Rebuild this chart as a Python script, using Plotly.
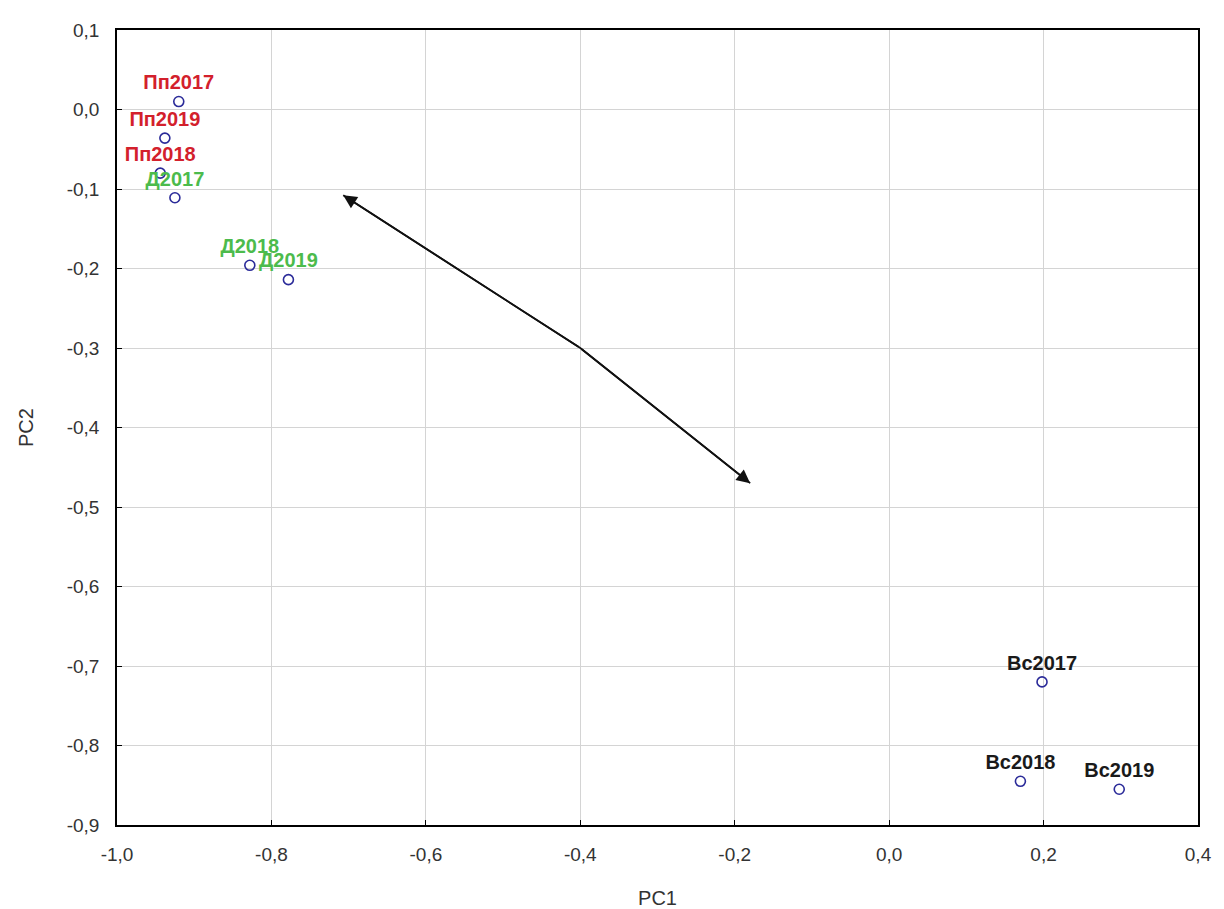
import plotly.graph_objects as go

labels = ["Пп2017", "Пп2019", "Пп2018", "Д2017", "Д2018", "Д2019", "Вс2017", "Вс2018", "Вс2019"]
pc1 = [-0.920, -0.938, -0.944, -0.925, -0.828, -0.778, 0.198, 0.170, 0.298]
pc2 = [0.010, -0.036, -0.080, -0.111, -0.196, -0.214, -0.720, -0.845, -0.855]
label_colors = ["#d3202c", "#d3202c", "#d3202c", "#4cbb4c", "#4cbb4c", "#4cbb4c", "#1a1a1a", "#1a1a1a", "#1a1a1a"]

# bent double-headed arrow: end1 -> middle -> end2
arrow_x = [-0.707, -0.400, -0.180]
arrow_y = [-0.108, -0.300, -0.470]

x_ticks = [-1.0, -0.8, -0.6, -0.4, -0.2, 0.0, 0.2, 0.4]
x_ticktext = ["-1,0", "-0,8", "-0,6", "-0,4", "-0,2", "0,0", "0,2", "0,4"]
y_ticks = [0.1, 0.0, -0.1, -0.2, -0.3, -0.4, -0.5, -0.6, -0.7, -0.8, -0.9]
y_ticktext = ["0,1", "0,0", "-0,1", "-0,2", "-0,3", "-0,4", "-0,5", "-0,6", "-0,7", "-0,8", "-0,9"]

FONT = "Liberation Sans, Arial"

fig = go.Figure()
fig.add_trace(go.Scatter(
    x=arrow_x, y=arrow_y, mode="lines",
    line=dict(color="#111111", width=1.8), showlegend=False, hoverinfo="skip",
))
fig.add_trace(go.Scatter(
    x=pc1, y=pc2, mode="markers+text", text=labels, textposition="top center",
    textfont=dict(family=FONT, size=20, color=label_colors, weight="bold"),
    marker=dict(symbol="circle-open", size=10, color="#2b2b99", line=dict(width=1.6, color="#2b2b99")),
    showlegend=False, cliponaxis=False,
))

for i_end in (0, 2):
    fig.add_annotation(
        x=arrow_x[i_end], y=arrow_y[i_end], ax=arrow_x[1], ay=arrow_y[1],
        xref="x", yref="y", axref="x", ayref="y",
        showarrow=True, arrowhead=2, arrowsize=1.5, arrowwidth=1.8, arrowcolor="#111111", text="",
    )

axis_common = dict(
    showgrid=True, gridcolor="#d4d4d4", gridwidth=1, zeroline=False,
    showline=True, linecolor="black", linewidth=1.5, mirror=True,
    ticks="inside", ticklen=5, tickcolor="black",
    tickfont=dict(family=FONT, size=19, color="#333333"),
)

fig.update_xaxes(range=[-1.0, 0.4], tickvals=x_ticks, ticktext=x_ticktext, ticklabelstandoff=11,
                 title=dict(text="PC1", font=dict(family=FONT, size=20, color="#333333"), standoff=27),
                 **axis_common)
fig.update_yaxes(range=[-0.9, 0.1], tickvals=y_ticks, ticktext=y_ticktext, ticklabelstandoff=12,
                 title=dict(text="PC2", font=dict(family=FONT, size=20, color="#333333"), standoff=28),
                 **axis_common)

fig.update_layout(
    width=1224, height=909,
    margin=dict(l=109, r=34, t=22, b=92),
    plot_bgcolor="white", paper_bgcolor="white",
)

fig.write_html("out.html")
